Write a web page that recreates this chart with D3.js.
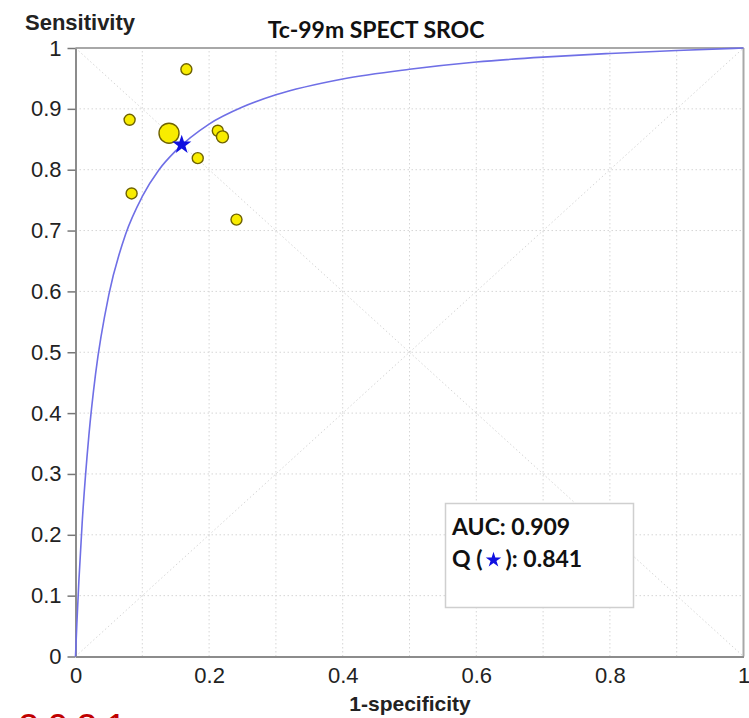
<html>
<head>
<meta charset="utf-8">
<style>
body { margin: 0; background: #fff; }
.tick text { font-family: "Liberation Sans", Arial, sans-serif; font-size: 22px; fill: #222; }
</style>
</head>
<body>
<svg id="chart" width="749" height="718"></svg>
<script src="https://cdn.jsdelivr.net/npm/d3@7/dist/d3.min.js"></script>
<script>
// studies: 1-specificity, sensitivity, marker radius
var studyFpr  = [0.166, 0.081, 0.140, 0.213, 0.220, 0.183, 0.084, 0.241];
var studySens = [0.965, 0.882, 0.860, 0.864, 0.854, 0.819, 0.761, 0.718];
var studyR    = [5.5, 5.5, 10, 5.5, 6, 5.5, 5.5, 5.5];

// SROC curve
var srocFpr  = [0, 0.002, 0.005, 0.01, 0.02, 0.03, 0.05, 0.075, 0.1, 0.125, 0.15, 0.2, 0.25, 0.3, 0.4, 0.5, 0.6, 0.7, 0.8, 0.9, 1];
var srocSens = [0, 0.053, 0.123, 0.220, 0.363, 0.464, 0.595, 0.694, 0.756, 0.800, 0.831, 0.875, 0.903, 0.923, 0.949, 0.965, 0.977, 0.985, 0.991, 0.996, 1];

var qPoint = [0.159, 0.841];
var auc = "0.909", qText = "0.841";
var yTicks = [0, 0.1, 0.2, 0.3, 0.4, 0.5, 0.6, 0.7, 0.8, 0.9, 1];
var xTicks = [0, 0.2, 0.4, 0.6, 0.8, 1];
var gridVals = [0.1, 0.2, 0.3, 0.4, 0.5, 0.6, 0.7, 0.8, 0.9];

var svg = d3.select("#chart");
var x = d3.scaleLinear().domain([0, 1]).range([75.5, 743.5]);
var y = d3.scaleLinear().domain([0, 1]).range([656.5, 48]);
var fmt = function(d){ return d3.format("")(+d.toFixed(1)); };

// grid
var grid = svg.append("g").attr("stroke", "#d6d6d6").attr("stroke-dasharray", "1.5,2.5");
grid.selectAll(".gx").data(gridVals).enter().append("line")
  .attr("x1", d => x(d)).attr("x2", d => x(d)).attr("y1", y(0)).attr("y2", y(1));
grid.selectAll(".gy").data(gridVals).enter().append("line")
  .attr("y1", d => y(d)).attr("y2", d => y(d)).attr("x1", x(0)).attr("x2", x(1));
// diagonals
grid.append("line").attr("x1", x(0)).attr("y1", y(1)).attr("x2", x(1)).attr("y2", y(0));
grid.append("line").attr("x1", x(0)).attr("y1", y(0)).attr("x2", x(1)).attr("y2", y(1));

// frame top/right
svg.append("line").attr("x1", x(0)).attr("x2", x(1)).attr("y1", y(1)).attr("y2", y(1))
  .attr("stroke", "#a8a8a8").attr("stroke-width", 2);
svg.append("line").attr("x1", x(1)).attr("x2", x(1)).attr("y1", y(1)).attr("y2", y(0))
  .attr("stroke", "#a8a8a8").attr("stroke-width", 2);

// axes
var yAxis = svg.append("g").attr("transform", "translate(" + x(0) + ",0)")
  .call(d3.axisLeft(y).tickValues(yTicks).tickFormat(fmt).tickSize(8).tickPadding(6).tickSizeOuter(0));
var xAxis = svg.append("g").attr("transform", "translate(0," + y(0) + ")")
  .call(d3.axisBottom(x).tickValues(xTicks).tickFormat(fmt).tickSize(0).tickPadding(11).tickSizeOuter(0));
svg.selectAll(".domain").attr("stroke", "#8c8c8c").attr("stroke-width", 2);
svg.selectAll(".tick line").attr("stroke", "#777").attr("stroke-width", 1.5);
svg.selectAll(".tick text").attr("font-family", null).attr("font-size", null);

// SROC curve
var line = d3.line().x((d, i) => x(srocFpr[i])).y(d => y(d)).curve(d3.curveMonotoneX);
svg.append("path").datum(srocSens).attr("d", line)
  .attr("fill", "none").attr("stroke", "#6f6fe6").attr("stroke-width", 1.6);

// studies
svg.selectAll(".study").data(studySens).enter().append("circle")
  .attr("cx", (d, i) => x(studyFpr[i])).attr("cy", d => y(d)).attr("r", (d, i) => studyR[i])
  .attr("fill", "#f8ec00").attr("stroke", "#6e6200").attr("stroke-width", 1.4);

// Q* point
svg.append("path").attr("d", d3.symbol(d3.symbolStar, 115)())
  .attr("transform", "translate(" + x(qPoint[0]) + "," + y(qPoint[1]) + ")")
  .attr("fill", "#1010e0");

// titles
svg.append("text").attr("x", 376).attr("y", 38).attr("text-anchor", "middle")
  .attr("font-family", "Lato, sans-serif").attr("font-weight", "bold").attr("font-size", 23)
  .attr("fill", "#111").text("Tc-99m SPECT SROC");
svg.append("text").attr("x", 25).attr("y", 30)
  .attr("font-family", "Liberation Sans, Arial, sans-serif").attr("font-weight", "bold").attr("font-size", 22)
  .attr("fill", "#222").text("Sensitivity");
svg.append("text").attr("x", 410).attr("y", 711).attr("text-anchor", "middle")
  .attr("font-family", "Liberation Sans, Arial, sans-serif").attr("font-weight", "bold").attr("font-size", 21)
  .attr("fill", "#222").text("1-specificity");

// AUC box
svg.append("rect").attr("x", 445.5).attr("y", 503.5).attr("width", 188).attr("height", 104)
  .attr("fill", "#fff").attr("stroke", "#cfcfcf").attr("stroke-width", 1.5);
var lg = svg.append("g").attr("font-family", "Lato, sans-serif").attr("font-weight", "bold")
  .attr("font-size", 23).attr("fill", "#111");
lg.append("text").attr("x", 452).attr("y", 535).text("AUC: " + auc);
var q1 = lg.append("text").attr("x", 452).attr("y", 567).text("Q (");
var w1 = q1.node().getComputedTextLength();
svg.append("path").attr("d", d3.symbol(d3.symbolStar, 75)())
  .attr("transform", "translate(" + (452 + w1 + 11) + ",560)").attr("fill", "#1010e0");
lg.append("text").attr("x", 452 + w1 + 23).attr("y", 567).text("): " + qText);

// red text cut off at the bottom edge, as in the source image
svg.append("text").attr("x", 18).attr("y", 741)
  .attr("font-family", "Liberation Sans, Arial, sans-serif").attr("font-size", 38)
  .attr("letter-spacing", 8).attr("fill", "#c00000").text("2021");
</script>
</body>
</html>
